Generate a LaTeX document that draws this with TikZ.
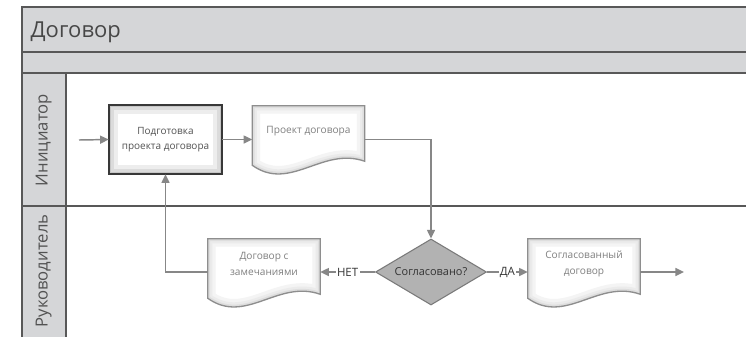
\documentclass[tikz,border=0pt]{standalone}
\usepackage{fontspec}
\setmainfont{Open Sans}
\usetikzlibrary{arrows.meta,calc,shapes.geometric}

\definecolor{barfill}{HTML}{D5D6D8}
\definecolor{frameline}{HTML}{585858}
\definecolor{conn}{HTML}{878787}
\definecolor{docline}{HTML}{8E8E8E}
\definecolor{doctext}{HTML}{808080}
\definecolor{darktext}{HTML}{333333}
\definecolor{decfill}{HTML}{B2B2B2}
\definecolor{decline}{HTML}{7A7A7A}

% outline of a document symbol around a node: straight top and sides, wavy bottom
\newcommand{\docoutline}[1]{(#1.north west) -- (#1.north east) -- ($(#1.south east)+(0,5)$)
  .. controls ($(#1.south west)+(70,-10)$) and ($(#1.south west)+(38,36)$) .. ($(#1.south west)+(0,9)$) -- cycle}

% document symbol with a soft inner shade
\newcommand{\drawdoc}[1]{%
  \fill[white] \docoutline{#1};
  \begin{scope}
    \clip \docoutline{#1};
    \draw[line width=12pt, gray!9] \docoutline{#1};
    \draw[line width=7pt, gray!16] \docoutline{#1};
    \draw[line width=3.5pt, gray!26] \docoutline{#1};
  \end{scope}
  \draw[docline, line width=1pt] \docoutline{#1};
}

\tikzset{
  frame/.style={frameline, line width=1.4pt},
  lanelabel/.style={rotate=90, text=darktext!85, font=\fontsize{12.5pt}{14pt}\selectfont},
  procbox/.style={rectangle, draw=none, minimum width=84.75pt, minimum height=51.75pt,
    align=center, inner sep=0pt, text=darktext!85, font=\fontsize{7.5pt}{11.25pt}\selectfont},
  docbox/.style={rectangle, draw=none, minimum width=84pt, minimum height=37.5pt,
    align=center, inner sep=0pt, text=doctext, font=\fontsize{7.6pt}{12pt}\selectfont},
  decision/.style={diamond, draw=decline, fill=decfill, line width=0.8pt, aspect=1.68,
    minimum width=83.25pt, minimum height=49.5pt, inner sep=0pt, text=darktext,
    font=\fontsize{8.2pt}{9pt}\selectfont},
  flow/.style={conn, line width=1.1pt, -{Triangle[length=6.5pt, width=6pt]}},
  branch/.style={fill=white, inner sep=1pt, text=darktext, font=\fontsize{8.6pt}{9pt}\selectfont}
}

\begin{document}
\begin{tikzpicture}[x=0.75pt, y=-0.75pt]
\useasboundingbox (0,0) rectangle (746,337);
\fill[white] (0,0) rectangle (746,337);

% pool header, sub-header and lane header column
\fill[barfill] (21.7,6.7) rectangle (746,73.3);
\fill[barfill] (21.7,73.3) rectangle (65.7,337);
\draw[frame] (746,6.7) -- (21.7,6.7) -- (21.7,337);
\draw[frame] (21.7,51.7) -- (746,51.7);
\draw[frame] (21.7,73.3) -- (746,73.3);
\draw[frame] (65.7,73.3) -- (65.7,337);
\draw[frame] (21.7,206) -- (746,206);

\node[anchor=base west, text=darktext!90, font=\fontsize{16.5pt}{18pt}\selectfont] (pool) at (26,37) {Договор};
\node[lanelabel] (lane1) at (43.7,140) {Инициатор};
\node[lanelabel] (lane2) at (43.7,271) {Руководитель};

% process step
\node[procbox] (prep) at (165.5,139.5) {Подготовка\\проекта договора};
\fill[white] (prep.north west) rectangle (prep.south east);
\begin{scope}
  \clip (prep.north west) rectangle (prep.south east);
  \draw[line width=14pt, gray!14] (prep.north west) rectangle (prep.south east);
  \draw[line width=8pt, gray!28] (prep.north west) rectangle (prep.south east);
  \draw[line width=4pt, gray!45] (prep.north west) rectangle (prep.south east);
\end{scope}
\draw[line width=1.6pt, black!78] (prep.north west) rectangle (prep.south east);
\node[procbox] at (prep.center) {Подготовка\\проекта договора};

% documents
\node[docbox] (draft) at (308.5,131) {};
\drawdoc{draft}
\node[docbox] at (draft.center) {Проект договора};

\node[docbox] (remarks) at (264,264) {};
\drawdoc{remarks}
\node[docbox] at (remarks.center) {Договор с\\замечаниями};

\node[docbox] (approved) at (584,264) {};
\drawdoc{approved}
\node[docbox] at (approved.center) {Согласованный\\договор};

% decision
\node[decision] (check) at (431,272) {Согласовано?};

% connectors
\coordinate (start) at (79,140);
\coordinate (finish) at (684,272);

\draw[flow] (start) -- (prep.west);
\draw[flow] (prep.east) -- (prep.east -| draft.west);
\draw[flow] (prep.east -| draft.east) -| (check.north);
\draw[flow] (check.east) -- node[branch] {ДА} (check.east -| approved.west);
\draw[flow] (check.east -| approved.east) -- (finish);
\draw[flow] (check.west) -- node[branch] {НЕТ} (check.west -| remarks.east);
\draw[flow] (check.west -| remarks.west) -| (prep.south);
\end{tikzpicture}
\end{document}
